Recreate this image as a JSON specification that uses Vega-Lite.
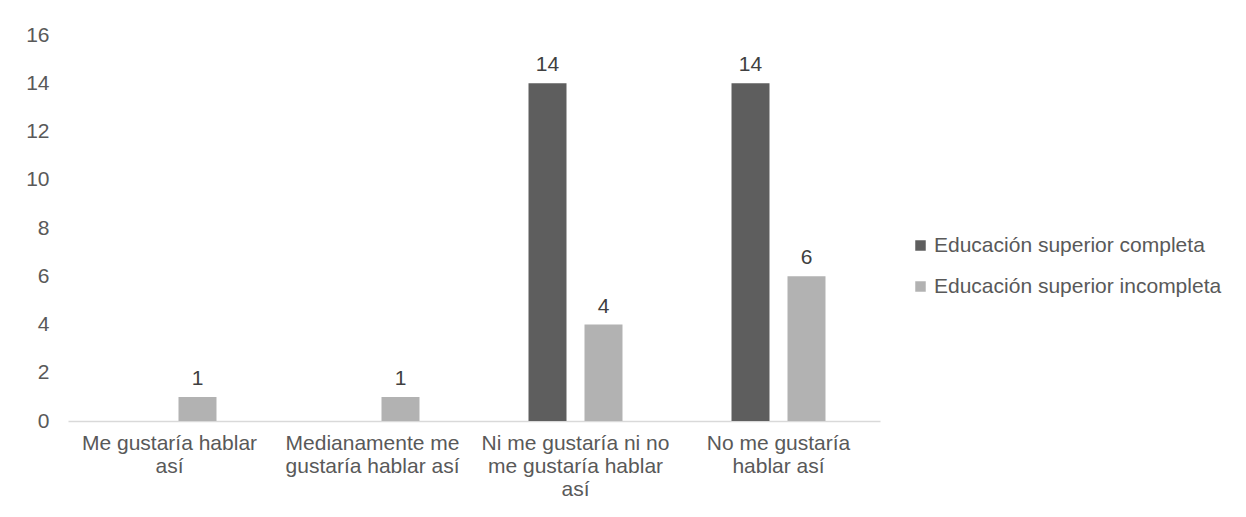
{
  "$schema": "https://vega.github.io/schema/vega-lite/v6.json",
  "autosize": {"type": "none"},
  "padding": {"left": 68, "top": 35, "right": 366, "bottom": 96},
  "width": 812,
  "height": 386,
  "background": "white",
  "config": {
    "view": {"stroke": null},
    "font": "Liberation Sans",
    "text": {"font": "Liberation Sans"}
  },
  "data": {
    "values": [
      {"categoria": "Me gustaría hablar así", "nivel": "Educación superior completa", "valor": 0},
      {"categoria": "Me gustaría hablar así", "nivel": "Educación superior incompleta", "valor": 1},
      {"categoria": "Medianamente me gustaría hablar así", "nivel": "Educación superior completa", "valor": 0},
      {"categoria": "Medianamente me gustaría hablar así", "nivel": "Educación superior incompleta", "valor": 1},
      {"categoria": "Ni me gustaría ni no me gustaría hablar así", "nivel": "Educación superior completa", "valor": 14},
      {"categoria": "Ni me gustaría ni no me gustaría hablar así", "nivel": "Educación superior incompleta", "valor": 4},
      {"categoria": "No me gustaría hablar así", "nivel": "Educación superior completa", "valor": 14},
      {"categoria": "No me gustaría hablar así", "nivel": "Educación superior incompleta", "valor": 6}
    ]
  },
  "encoding": {
    "x": {
      "field": "categoria",
      "type": "nominal",
      "sort": null,
      "scale": {"paddingInner": 0.537, "paddingOuter": 0.2685},
      "axis": {
        "title": null,
        "labelAngle": 0,
        "ticks": false,
        "domainColor": "#d9d9d9",
        "domainWidth": 1.5,
        "labelFontSize": 21,
        "labelColor": "#595959",
        "labelPadding": 11,
        "labelLineHeight": 23,
        "labelBaseline": "top",
        "labelLimit": 400,
        "labelExpr": "datum.value == 'Me gustaría hablar así' ? ['Me gustaría hablar', 'así'] : datum.value == 'Medianamente me gustaría hablar así' ? ['Medianamente me', 'gustaría hablar así'] : datum.value == 'Ni me gustaría ni no me gustaría hablar así' ? ['Ni me gustaría ni no', 'me gustaría hablar', 'así'] : ['No me gustaría', 'hablar así']"
      }
    },
    "xOffset": {
      "field": "nivel",
      "type": "nominal",
      "scale": {"paddingInner": 0.3214, "paddingOuter": 0}
    },
    "y": {
      "field": "valor",
      "type": "quantitative",
      "scale": {"domain": [0, 16], "nice": false},
      "axis": {
        "title": null,
        "values": [0, 2, 4, 6, 8, 10, 12, 14, 16],
        "grid": false,
        "domain": false,
        "ticks": false,
        "labelFontSize": 21,
        "labelColor": "#595959",
        "labelPadding": 19
      }
    }
  },
  "layer": [
    {
      "mark": {"type": "bar"},
      "encoding": {
        "color": {
          "field": "nivel",
          "type": "nominal",
          "scale": {
            "domain": ["Educación superior completa", "Educación superior incompleta"],
            "range": ["#5e5e5e", "#b2b2b2"]
          },
          "legend": {
            "title": null,
            "orient": "none",
            "legendX": 842,
            "legendY": 200,
            "symbolType": "square",
            "symbolSize": 110,
            "symbolStrokeWidth": 0,
            "labelFontSize": 21,
            "labelColor": "#595959",
            "labelOffset": 3,
            "labelLimit": 400,
            "rowPadding": 19
          }
        }
      }
    },
    {
      "transform": [{"filter": "datum.valor > 0"}],
      "mark": {"type": "text", "baseline": "bottom", "dy": -8, "fontSize": 21, "color": "#404040"},
      "encoding": {
        "text": {"field": "valor", "type": "quantitative"}
      }
    }
  ]
}
